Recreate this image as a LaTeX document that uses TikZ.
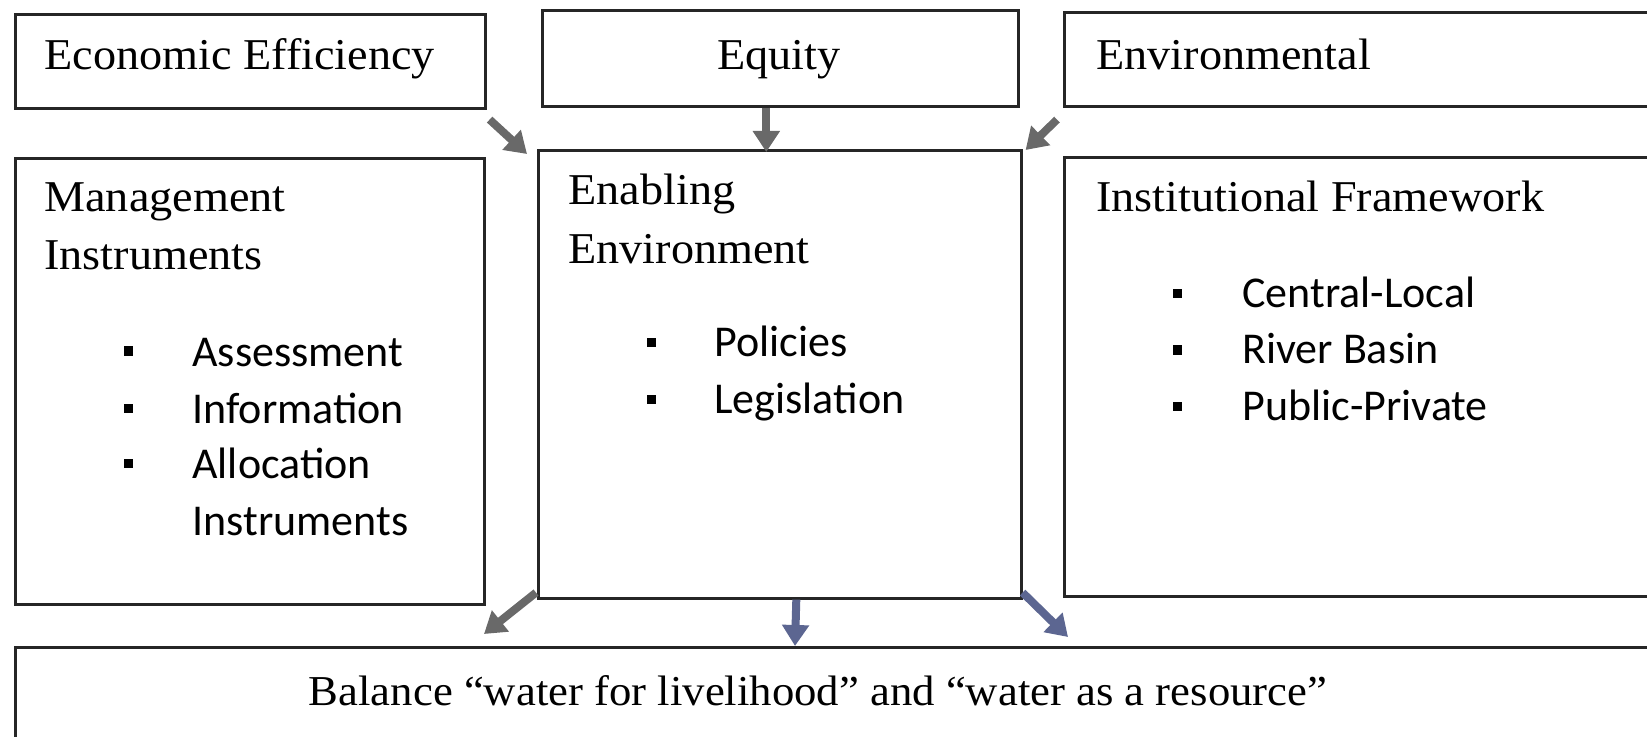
\documentclass[tikz,border=0pt]{standalone}
\usepackage{fontspec}
\setmainfont{Liberation Serif}[FakeStretch=1.05]
\newfontfamily\calib{Carlito}
\usetikzlibrary{arrows.meta}
\definecolor{arrgray}{RGB}{105,105,105}
\definecolor{arrblue}{RGB}{92,102,145}
\begin{document}
\begin{tikzpicture}[x=0.5pt,y=-0.5pt,
  box/.style={draw=black!85, line width=1.3pt, rectangle, inner sep=0pt, anchor=north west},
  ttl/.style={font=\fontsize{22}{26}\selectfont, anchor=base west, inner sep=0pt},
  itm/.style={font=\calib\fontsize{22}{26}\selectfont, anchor=base west, inner sep=0pt},
  bul/.style={fill=black, rectangle, minimum size=4.5pt, inner sep=0pt},
  arr/.style={line width=4pt, draw=arrgray, -{Triangle[width=13pt,length=10.5pt]}},
  barr/.style={arr, draw=arrblue}
]
\useasboundingbox (0,0) rectangle (1647,737);
\clip (0,0) rectangle (1647,737);
% boxes
\node[box, minimum width=235pt, minimum height=47pt] (econ) at (14,13) {};
\node[box, minimum width=238pt, minimum height=48pt] (equity) at (541,9) {};
\node[box, minimum width=318.5pt, minimum height=47pt] (env) at (1063,11) {};
\node[box, minimum width=234.5pt, minimum height=223pt] (mgmt) at (14,157) {};
\node[box, minimum width=241.5pt, minimum height=224pt] (enab) at (537,149) {};
\node[box, minimum width=318.5pt, minimum height=219.5pt] (inst) at (1063,156) {};
\node[box, minimum width=843pt, minimum height=49.5pt] (bal) at (14,646) {};
% titles
\node[ttl] (teco) at (44,70) {Economic Efficiency};
\node[ttl, anchor=base] (tequ) at (779,70) {Equity};
\node[ttl] (tenv) at (1096,70) {Environmental};
\node[ttl] (tmg1) at (44,212) {Management};
\node[ttl] (tmg2) at (44,270) {Instruments};
\node[ttl] (ten1) at (568,205) {Enabling};
\node[ttl] (ten2) at (568,264) {Environment};
\node[ttl] (tins) at (1096,212) {Institutional Framework};
\node[ttl, anchor=base, font=\fontsize{21.3}{26}\selectfont] (tbal) at (818,705) {Balance “water for livelihood” and “water as a resource”};
% management items
\node[bul] (mb1) at (128,351) {};
\node[bul] (mb2) at (128,408) {};
\node[bul] (mb3) at (128,463) {};
\node[itm] (mi1) at (192,366) {Assessment};
\node[itm] (mi2) at (192,423) {Information};
\node[itm] (mi3) at (192,478) {Allocation};
\node[itm] (mi4) at (192,535) {Instruments};
% enabling items
\node[bul] (eb1) at (651,343) {};
\node[bul] (eb2) at (651,399) {};
\node[itm] (ei1) at (714,357) {Policies};
\node[itm] (ei2) at (714,413) {Legislation};
% institutional items
\node[bul] (ib1) at (1177,294) {};
\node[bul] (ib2) at (1177,350) {};
\node[bul] (ib3) at (1177,406) {};
\node[itm] (ii1) at (1242,308) {Central-Local};
\node[itm] (ii2) at (1242,364) {River Basin};
\node[itm] (ii3) at (1242,420) {Public-Private};
% arrows
\draw[arr] ([shift={(3,10)}]econ.south east) -- ([shift={(-10,5)}]enab.north west);
\draw[arr] ([shift={(-14,0)}]equity.south) -- ([shift={(-13.5,3)}]enab.north);
\draw[arr] ([shift={(-6,12)}]env.south west) -- ([shift={(3,1)}]enab.north east);
\draw[arr] ([shift={(-1,-7)}]enab.south west) -- ([shift={(470,-12)}]bal.north west);
\draw[barr] ([shift={(16.5,0)}]enab.south) -- ([shift={(781,0)}]bal.north west);
\draw[barr] ([shift={(0,-7)}]enab.south east) -- ([shift={(1054,-9)}]bal.north west);
\end{tikzpicture}
\end{document}
